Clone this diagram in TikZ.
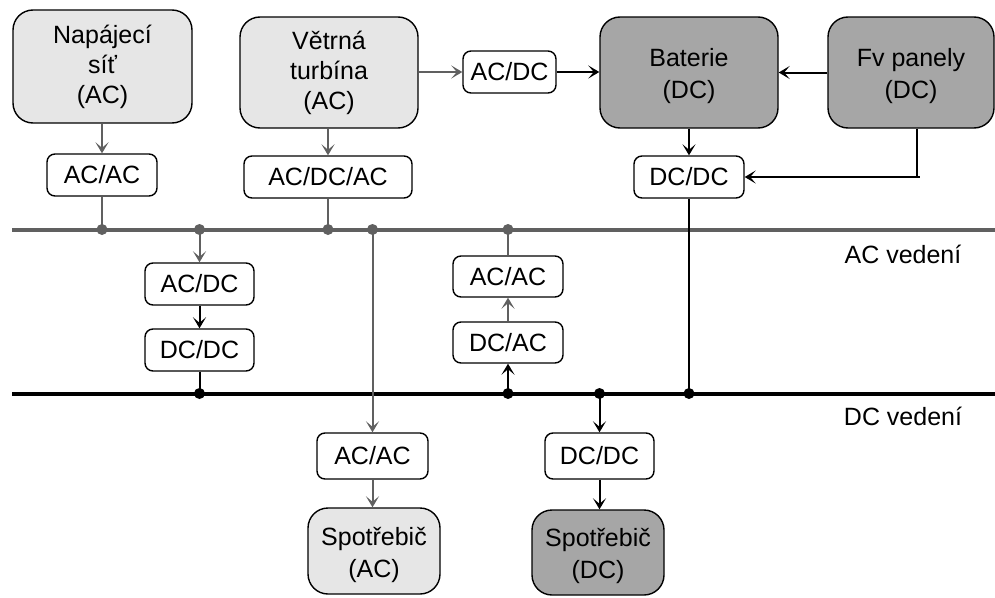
\documentclass[tikz,border=0pt]{standalone}
\usepackage{fontspec}
\setmainfont{Liberation Sans}
\usetikzlibrary{arrows.meta,calc}
\definecolor{lightfill}{RGB}{230,230,230}
\definecolor{darkfill}{RGB}{166,166,166}
\definecolor{lgray}{RGB}{96,96,96}
\newcommand{\tstrut}{\rule{0pt}{26pt}}
\begin{document}
\begin{tikzpicture}[x=1pt,y=-1pt,
  every node/.style={font=\fontsize{25}{32}\selectfont},
  big/.style={draw, rounded corners=20pt, line width=1.4pt, align=center, inner sep=0pt},
  conv/.style={draw, fill=white, rounded corners=8pt, line width=1.4pt, inner sep=0pt},
  gline/.style={draw=lgray, line width=2pt},
  bline/.style={draw=black, line width=2pt},
  arr/.style={-{Stealth[length=11pt,width=13pt,inset=5.5pt]}},
  dotg/.style={fill=lgray},
  dotb/.style={fill=black}]
\useasboundingbox (0,0) rectangle (995,597);

% buses
\coordinate (acL) at (12,229.5);
\coordinate (acR) at (995,229.5);
\coordinate (dcL) at (12,393.5);
\coordinate (dcR) at (995,393.5);
\draw[draw=lgray, line width=4pt] (acL) -- (acR);
\draw[draw=black, line width=4pt] (dcL) -- (dcR);

% big boxes
\node[big, fill=lightfill, minimum width=179pt, minimum height=113pt, font=\fontsize{25}{30}\selectfont] (nap) at (102.5,66.5) {Napájecí\\síť\\(AC)};
\node[big, fill=lightfill, minimum width=178pt, minimum height=111pt, font=\fontsize{25}{30}\selectfont] (vet) at (329,72.5) {Větrná\\turbína\\(AC)};
\node[big, fill=darkfill, minimum width=178pt, minimum height=111pt] (bat) at (689,72.5) {\tstrut Baterie\\(DC)};
\node[big, fill=darkfill, minimum width=166pt, minimum height=111pt] (fv) at (911,72.5) {\tstrut Fv panely\\(DC)};
\node[big, fill=lightfill, minimum width=132pt, minimum height=86pt] (spAC) at (374,551) {\tstrut Spotřebič\\(AC)};
\node[big, fill=darkfill, minimum width=132pt, minimum height=85pt] (spDC) at (598,552.5) {\tstrut Spotřebič\\(DC)};

% converters
\node[conv, minimum width=93pt, minimum height=42pt] (acdcT) at (509.5,72) {AC/DC};
\node[conv, minimum width=110pt, minimum height=42pt] (acac1) at (102,175) {AC/AC};
\node[conv, minimum width=168pt, minimum height=42pt] (acdcac) at (328,177) {AC/DC/AC};
\node[conv, minimum width=110pt, minimum height=42pt] (dcdcT) at (689,177) {DC/DC};
\node[conv, minimum width=109pt, minimum height=42pt] (acdcL) at (199.5,284) {AC/DC};
\node[conv, minimum width=109pt, minimum height=42pt] (dcdcL) at (199.5,350) {DC/DC};
\node[conv, minimum width=110pt, minimum height=41pt] (acacM) at (508,276.5) {AC/AC};
\node[conv, minimum width=110pt, minimum height=41pt] (dcacM) at (508,342.5) {DC/AC};
\node[conv, minimum width=111pt, minimum height=46pt] (acacB) at (372.5,456) {AC/AC};
\node[conv, minimum width=109pt, minimum height=46pt] (dcdcB) at (599.5,456) {DC/DC};

% bus labels
\node (aclab) at (903,254) {AC vedení};
\node (dclab) at (903,416) {DC vedení};

% junction coordinates
\coordinate (a1) at (acac1.south |- acL);
\coordinate (a2) at (acdcL.north |- acL);
\coordinate (a3) at (acdcac.south |- acL);
\coordinate (a4) at (acacB.north |- acL);
\coordinate (a5) at (acacM.north |- acL);
\coordinate (d1) at (dcdcL.south |- dcL);
\coordinate (d2) at (dcacM.south |- dcL);
\coordinate (d3) at (dcdcB.north |- dcL);
\coordinate (d4) at (dcdcT.south |- dcL);
\coordinate (fvd) at ($(fv.south)+(6,0)$);
\coordinate (fvc) at (fvd |- dcdcT.east);

% gray connectors
\draw[gline, arr] (nap.south -| acac1.north) -- (acac1.north);
\draw[gline] (acac1.south) -- (a1);
\draw[gline, arr] (vet.south -| acdcac.north) -- (acdcac.north);
\draw[gline] (acdcac.south) -- (a3);
\draw[gline, arr] (acdcT.west -| vet.east) -- (acdcT.west);
\draw[gline, arr] (a2) -- (acdcL.north);
\draw[gline, arr] (a4) -- (acacB.north);
\draw[gline, arr] (acacB.south) -- (spAC.north -| acacB.south);
\draw[gline] (a5) -- (acacM.north);
\draw[gline, arr] (dcacM.north) -- (acacM.south);

% black connectors
\draw[bline, arr] (acdcT.east) -- (bat.west |- acdcT.east);
\draw[bline, arr] (fv.west) -- (bat.east);
\draw[bline, arr] (bat.south) -- (dcdcT.north);
\draw[bline, arr] (fvd) |- (dcdcT.east);
\draw[bline] (fvc) -- ++(3,0);
\draw[bline] (dcdcT.south) -- (d4);
\draw[bline, arr] (acdcL.south) -- (dcdcL.north);
\draw[bline] (dcdcL.south) -- (d1);
\draw[bline, arr] (d2) -- (dcacM.south);
\draw[bline, arr] (d3) -- (dcdcB.north);
\draw[bline, arr] (dcdcB.south) -- (spDC.north -| dcdcB.south);

% dots
\foreach \p in {a1,a2,a3,a4,a5} \fill[dotg] (\p) circle (5.5pt);
\foreach \p in {d1,d2,d3,d4} \fill[dotb] (\p) circle (5.5pt);
\end{tikzpicture}
\end{document}
